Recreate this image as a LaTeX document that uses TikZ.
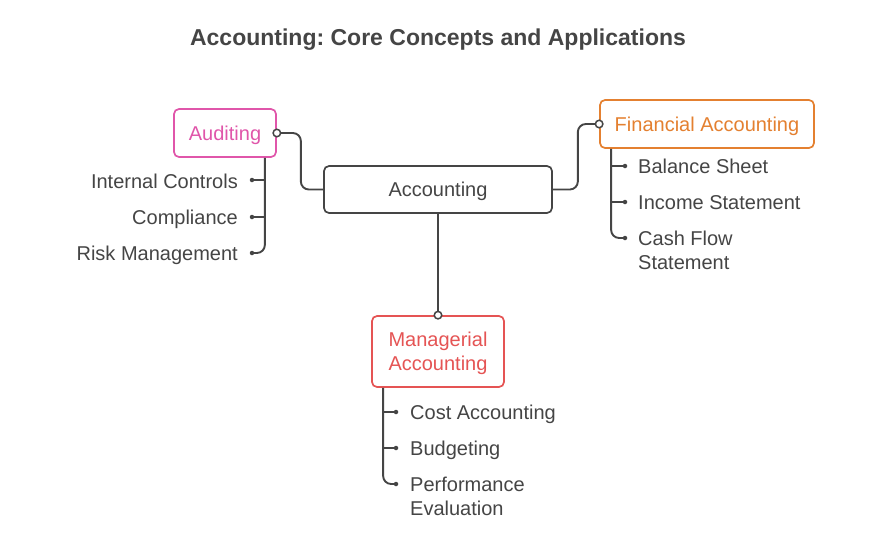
\documentclass[tikz,border=0pt]{standalone}
\usepackage{fontspec}
\setmainfont{Liberation Sans}
\definecolor{txt}{HTML}{454545}
\definecolor{ln}{HTML}{454545}
\definecolor{pinkc}{HTML}{E056AA}
\definecolor{orangec}{HTML}{E48030}
\definecolor{redc}{HTML}{E55454}
\begin{document}
\frenchspacing
\begin{tikzpicture}[x=1pt,y=-1pt,
  box/.style={draw, rounded corners=5pt, line width=1.7pt, fill=white, inner sep=0,
    font=\fontsize{20}{24}\selectfont, align=center, text depth=0pt},
  lbl/.style={font=\fontsize{20}{24}\selectfont, text=txt, inner sep=0},
  conn/.style={draw=ln, line width=1.9pt, rounded corners=8pt},
  opendot/.style={circle, draw=ln, fill=white, line width=1.5pt, minimum size=7.5pt, inner sep=0},
  smalldot/.style={circle, fill=ln, minimum size=4.5pt, inner sep=0}]
\fill[white] (0,0) rectangle (876,555);
\useasboundingbox (0,0) rectangle (876,555);

\node[font=\fontsize{23}{27}\selectfont\bfseries, text=txt, inner sep=0, anchor=base] (title) at (438,45) {Accounting: Core Concepts and Applications};

\node[box, draw=ln, text=txt, minimum width=228pt, minimum height=47pt] (acc) at (438,189.5) {Accounting};
\node[box, draw=pinkc, text=pinkc, minimum width=102pt, minimum height=48pt] (aud) at (225,133) {Auditing};
\node[box, draw=orangec, text=orangec, minimum width=214pt, minimum height=48pt] (fin) at (707,124) {Financial Accounting};
\node[box, draw=redc, text=redc, minimum width=132pt, minimum height=71pt] (man) at (438,351.5) {Managerial\\Accounting};

% main connectors
\draw[conn] (aud.east) -- ++(24,0) |- (acc.west);
\draw[conn] (acc.east) -- ++(25,0) |- (fin.west);
\draw[conn] (acc.south) -- (man.north);
\node[opendot] (oa) at (aud.east) {};
\node[opendot] (of) at (fin.west) {};
\node[opendot] (om) at (man.north) {};

% Auditing children
\coordinate (as) at ([xshift=-12pt]aud.south east);
\coordinate (a1) at (252,180);
\coordinate (a2) at (252,217);
\coordinate (a3) at (252,253);
\draw[conn] (as) |- (a3);
\draw[conn] (a1 -| as) -- (a1);
\draw[conn] (a2 -| as) -- (a2);
\foreach \c in {a1,a2,a3} \node[smalldot] at (\c) {};
\node[lbl, anchor=base east] (ta1) at (238,188) {Internal Controls};
\node[lbl, anchor=base east] (ta2) at (238,224) {Compliance};
\node[lbl, anchor=base east] (ta3) at (238,260) {Risk Management};

% Financial children
\coordinate (fs) at ([xshift=12pt]fin.south west);
\coordinate (f1) at (625,166);
\coordinate (f2) at (625,202);
\coordinate (f3) at (625,238);
\draw[conn] (fs) |- (f3);
\draw[conn] (f1 -| fs) -- (f1);
\draw[conn] (f2 -| fs) -- (f2);
\foreach \c in {f1,f2,f3} \node[smalldot] at (\c) {};
\node[lbl, anchor=base west] (tf1) at (638,173) {Balance Sheet};
\node[lbl, anchor=base west] (tf2) at (638,209) {Income Statement};
\node[lbl, anchor=base west, align=left] (tf3) at (638,269) {Cash Flow\\Statement};

% Managerial children
\coordinate (ms) at ([xshift=12pt]man.south west);
\coordinate (m1) at (396,412);
\coordinate (m2) at (396,448);
\coordinate (m3) at (396,484);
\draw[conn] (ms) |- (m3);
\draw[conn] (m1 -| ms) -- (m1);
\draw[conn] (m2 -| ms) -- (m2);
\foreach \c in {m1,m2,m3} \node[smalldot] at (\c) {};
\node[lbl, anchor=base west] (tm1) at (410,419) {Cost Accounting};
\node[lbl, anchor=base west] (tm2) at (410,455) {Budgeting};
\node[lbl, anchor=base west, align=left] (tm3) at (410,515) {Performance\\Evaluation};
\end{tikzpicture}
\end{document}
